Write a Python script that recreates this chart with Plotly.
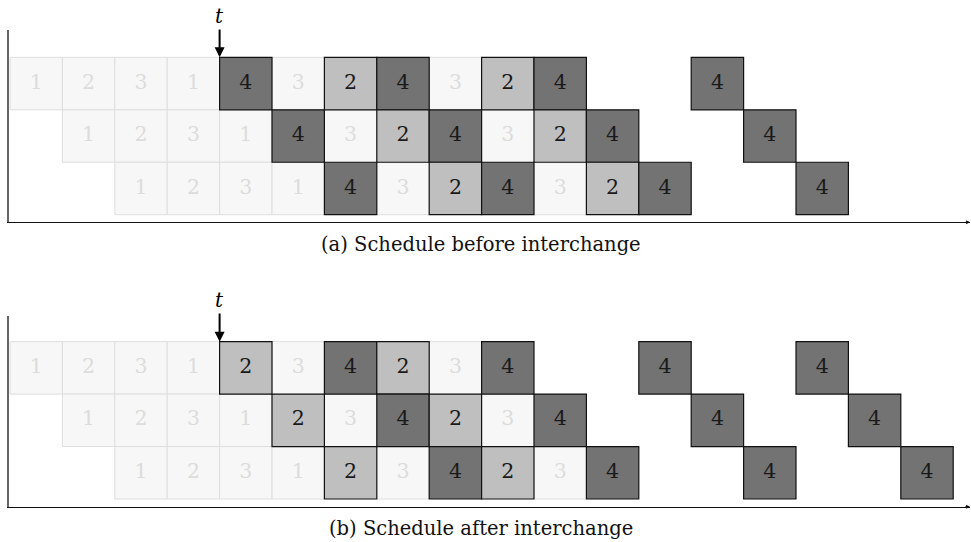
import plotly.graph_objects as go

# ---------------- data ----------------
t_index = 4                      # time slot marked by the arrow "t"
row_offsets = [0, 1, 2]          # each row starts one slot later
# sequence of job labels per row (None = idle slot)
seq_before = [1, 2, 3, 1, 4, 3, 2, 4, 3, 2, 4, None, None, 4]
seq_after = [1, 2, 3, 1, 2, 3, 4, 2, 3, 4, None, None, 4, None, None, 4]
captions = ["(a) Schedule before interchange", "(b) Schedule after interchange"]

# ---------------- styles ----------------
FONT = "DejaVu Serif"
FAINT_FILL, FAINT_LINE, FAINT_TEXT = "#f7f7f7", "#dedede", "#dcdcdc"
LIGHT_FILL, DARK_FILL, EDGE, TEXT = "#bfbfbf", "#737373", "#111111", "#1a1a1a"

W, H = 971, 542
x_left, x_right = 9, 970
px_per_unit = 52.4
x0 = 10                        # pixel of slot 0
xr = [(x_left - x0) / px_per_unit, (x_right - x0) / px_per_unit]

# panels: (axis top px, axis bottom px, rows bottom px)
panels = [(30, 222.3, 214.7), (316, 506.7, 499.0)]
cap_y = [244, 528]
tick_y = [16, 300]

fig = go.Figure()
shapes, annotations = [], []

for p, seq in enumerate([seq_before, seq_after]):
    xa = "x" if p == 0 else "x2"
    ya = "y" if p == 0 else "y2"
    top, bot, rows_bot = panels[p]
    ppu = 52.45
    yrange = [-(bot - rows_bot) / ppu, (rows_bot - top) / ppu]
    lay_x = "xaxis" if p == 0 else "xaxis2"
    lay_y = "yaxis" if p == 0 else "yaxis2"
    fig.layout[lay_x] = dict(domain=[x_left / W, x_right / W], range=xr,
                             showgrid=False, zeroline=False, showticklabels=False,
                             ticks="", showline=True, linecolor="#111111", linewidth=1.3,
                             anchor=ya, fixedrange=True)
    fig.layout[lay_y] = dict(domain=[1 - bot / H, 1 - top / H], range=yrange,
                             showgrid=False, zeroline=False, showticklabels=False,
                             ticks="", showline=True, linecolor="#666666", linewidth=1.5,
                             anchor=xa, fixedrange=True)

    faint_cells, strong_cells = [], []
    tx, ty, tt, tc = [], [], [], []
    for r, off in enumerate(row_offsets):
        for i, v in enumerate(seq):
            if v is None:
                continue
            k = off + i
            yb = 2 - r
            if v in (1, 3) or k < t_index:
                faint_cells.append((k, yb, FAINT_FILL, FAINT_LINE, 1))
                tc.append(FAINT_TEXT)
            else:
                fill = LIGHT_FILL if v == 2 else DARK_FILL
                strong_cells.append((k, yb, fill, EDGE, 1.2))
                tc.append(TEXT)
            tx.append(k + 0.5)
            ty.append(yb + 0.5)
            tt.append(str(v))
    for (k, yb, fill, line, lw) in faint_cells + strong_cells:
        shapes.append(dict(type="rect", xref=xa, yref=ya, x0=k, x1=k + 1, y0=yb, y1=yb + 1,
                           fillcolor=fill, line=dict(color=line, width=lw), layer="below"))
    fig.add_trace(go.Scatter(x=tx, y=ty, text=tt, mode="text", xaxis=xa, yaxis=ya,
                             textfont=dict(family=FONT, size=20.5, color=tc),
                             hoverinfo="skip", showlegend=False))
    # arrow "t"
    annotations.append(dict(x=t_index, y=3, xref=xa, yref=ya, text="<i>t</i>",
                            showarrow=True, ax=0, ay=-(rows_bot - 3 * ppu - tick_y[p]),
                            arrowhead=2, arrowsize=1, arrowwidth=2, arrowcolor="#000000",
                            standoff=0, startstandoff=0,
                            font=dict(family=FONT, size=20, color="#000000")))
    # arrow tip at right end of time axis
    annotations.append(dict(x=x_right / W, y=1 - bot / H, xref="paper", yref="paper",
                            text="", showarrow=True, ax=-6, ay=0, arrowhead=2,
                            arrowsize=0.6, arrowwidth=1.3, arrowcolor="#111111"))
    # caption
    annotations.append(dict(x=481 / W, y=1 - cap_y[p] / H, xref="paper", yref="paper",
                            text=captions[p], showarrow=False, xanchor="center",
                            yanchor="middle", font=dict(family=FONT, size=19.5, color="#111111")))

fig.update_layout(width=W, height=H, margin=dict(l=0, r=0, t=0, b=0),
                  paper_bgcolor="white", plot_bgcolor="white",
                  shapes=shapes, annotations=annotations, showlegend=False)
fig.write_html("out.html")
